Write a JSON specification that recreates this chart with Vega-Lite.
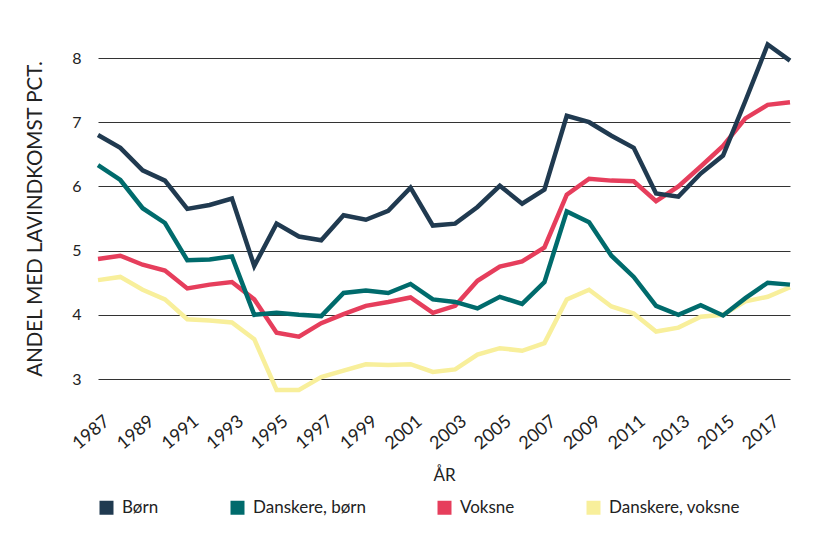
{
  "$schema": "https://vega.github.io/schema/vega-lite/v6.json",
  "autosize": "none",
  "width": 692,
  "height": 321,
  "padding": {"left": 98, "top": 58, "right": 23, "bottom": 154},
  "background": "white",
  "config": {
    "view": {"stroke": null},
    "font": "Lato",
    "axis": {"labelFont": "Lato", "titleFont": "Lato", "labelColor": "#222", "titleColor": "#222", "titleFontWeight": "normal"}
  },
  "datasets": {
    "rows": [
      {"year": 1987, "series": "Danskere, voksne", "value": 4.54},
      {"year": 1988, "series": "Danskere, voksne", "value": 4.59},
      {"year": 1989, "series": "Danskere, voksne", "value": 4.39},
      {"year": 1990, "series": "Danskere, voksne", "value": 4.24},
      {"year": 1991, "series": "Danskere, voksne", "value": 3.93},
      {"year": 1992, "series": "Danskere, voksne", "value": 3.91},
      {"year": 1993, "series": "Danskere, voksne", "value": 3.88},
      {"year": 1994, "series": "Danskere, voksne", "value": 3.62},
      {"year": 1995, "series": "Danskere, voksne", "value": 2.83},
      {"year": 1996, "series": "Danskere, voksne", "value": 2.83},
      {"year": 1997, "series": "Danskere, voksne", "value": 3.03},
      {"year": 1998, "series": "Danskere, voksne", "value": 3.13},
      {"year": 1999, "series": "Danskere, voksne", "value": 3.23},
      {"year": 2000, "series": "Danskere, voksne", "value": 3.22},
      {"year": 2001, "series": "Danskere, voksne", "value": 3.23},
      {"year": 2002, "series": "Danskere, voksne", "value": 3.11},
      {"year": 2003, "series": "Danskere, voksne", "value": 3.15},
      {"year": 2004, "series": "Danskere, voksne", "value": 3.38},
      {"year": 2005, "series": "Danskere, voksne", "value": 3.48},
      {"year": 2006, "series": "Danskere, voksne", "value": 3.44},
      {"year": 2007, "series": "Danskere, voksne", "value": 3.56},
      {"year": 2008, "series": "Danskere, voksne", "value": 4.24},
      {"year": 2009, "series": "Danskere, voksne", "value": 4.39},
      {"year": 2010, "series": "Danskere, voksne", "value": 4.13},
      {"year": 2011, "series": "Danskere, voksne", "value": 4.02},
      {"year": 2012, "series": "Danskere, voksne", "value": 3.74},
      {"year": 2013, "series": "Danskere, voksne", "value": 3.80},
      {"year": 2014, "series": "Danskere, voksne", "value": 3.97},
      {"year": 2015, "series": "Danskere, voksne", "value": 4.00},
      {"year": 2016, "series": "Danskere, voksne", "value": 4.21},
      {"year": 2017, "series": "Danskere, voksne", "value": 4.28},
      {"year": 2018, "series": "Danskere, voksne", "value": 4.43},

      {"year": 1987, "series": "Voksne", "value": 4.87},
      {"year": 1988, "series": "Voksne", "value": 4.92},
      {"year": 1989, "series": "Voksne", "value": 4.78},
      {"year": 1990, "series": "Voksne", "value": 4.69},
      {"year": 1991, "series": "Voksne", "value": 4.41},
      {"year": 1992, "series": "Voksne", "value": 4.47},
      {"year": 1993, "series": "Voksne", "value": 4.51},
      {"year": 1994, "series": "Voksne", "value": 4.24},
      {"year": 1995, "series": "Voksne", "value": 3.72},
      {"year": 1996, "series": "Voksne", "value": 3.66},
      {"year": 1997, "series": "Voksne", "value": 3.87},
      {"year": 1998, "series": "Voksne", "value": 4.01},
      {"year": 1999, "series": "Voksne", "value": 4.14},
      {"year": 2000, "series": "Voksne", "value": 4.20},
      {"year": 2001, "series": "Voksne", "value": 4.27},
      {"year": 2002, "series": "Voksne", "value": 4.03},
      {"year": 2003, "series": "Voksne", "value": 4.14},
      {"year": 2004, "series": "Voksne", "value": 4.53},
      {"year": 2005, "series": "Voksne", "value": 4.75},
      {"year": 2006, "series": "Voksne", "value": 4.83},
      {"year": 2007, "series": "Voksne", "value": 5.05},
      {"year": 2008, "series": "Voksne", "value": 5.87},
      {"year": 2009, "series": "Voksne", "value": 6.12},
      {"year": 2010, "series": "Voksne", "value": 6.09},
      {"year": 2011, "series": "Voksne", "value": 6.08},
      {"year": 2012, "series": "Voksne", "value": 5.77},
      {"year": 2013, "series": "Voksne", "value": 6.00},
      {"year": 2014, "series": "Voksne", "value": 6.31},
      {"year": 2015, "series": "Voksne", "value": 6.63},
      {"year": 2016, "series": "Voksne", "value": 7.06},
      {"year": 2017, "series": "Voksne", "value": 7.27},
      {"year": 2018, "series": "Voksne", "value": 7.31},

      {"year": 1987, "series": "Danskere, børn", "value": 6.33},
      {"year": 1988, "series": "Danskere, børn", "value": 6.10},
      {"year": 1989, "series": "Danskere, børn", "value": 5.66},
      {"year": 1990, "series": "Danskere, børn", "value": 5.43},
      {"year": 1991, "series": "Danskere, børn", "value": 4.85},
      {"year": 1992, "series": "Danskere, børn", "value": 4.86},
      {"year": 1993, "series": "Danskere, børn", "value": 4.91},
      {"year": 1994, "series": "Danskere, børn", "value": 4.00},
      {"year": 1995, "series": "Danskere, børn", "value": 4.03},
      {"year": 1996, "series": "Danskere, børn", "value": 4.00},
      {"year": 1997, "series": "Danskere, børn", "value": 3.98},
      {"year": 1998, "series": "Danskere, børn", "value": 4.34},
      {"year": 1999, "series": "Danskere, børn", "value": 4.38},
      {"year": 2000, "series": "Danskere, børn", "value": 4.34},
      {"year": 2001, "series": "Danskere, børn", "value": 4.48},
      {"year": 2002, "series": "Danskere, børn", "value": 4.24},
      {"year": 2003, "series": "Danskere, børn", "value": 4.20},
      {"year": 2004, "series": "Danskere, børn", "value": 4.10},
      {"year": 2005, "series": "Danskere, børn", "value": 4.28},
      {"year": 2006, "series": "Danskere, børn", "value": 4.17},
      {"year": 2007, "series": "Danskere, børn", "value": 4.51},
      {"year": 2008, "series": "Danskere, børn", "value": 5.61},
      {"year": 2009, "series": "Danskere, børn", "value": 5.44},
      {"year": 2010, "series": "Danskere, børn", "value": 4.92},
      {"year": 2011, "series": "Danskere, børn", "value": 4.59},
      {"year": 2012, "series": "Danskere, børn", "value": 4.14},
      {"year": 2013, "series": "Danskere, børn", "value": 4.00},
      {"year": 2014, "series": "Danskere, børn", "value": 4.15},
      {"year": 2015, "series": "Danskere, børn", "value": 3.99},
      {"year": 2016, "series": "Danskere, børn", "value": 4.26},
      {"year": 2017, "series": "Danskere, børn", "value": 4.50},
      {"year": 2018, "series": "Danskere, børn", "value": 4.47},

      {"year": 1987, "series": "Børn", "value": 6.80},
      {"year": 1988, "series": "Børn", "value": 6.60},
      {"year": 1989, "series": "Børn", "value": 6.25},
      {"year": 1990, "series": "Børn", "value": 6.09},
      {"year": 1991, "series": "Børn", "value": 5.65},
      {"year": 1992, "series": "Børn", "value": 5.71},
      {"year": 1993, "series": "Børn", "value": 5.81},
      {"year": 1994, "series": "Børn", "value": 4.76},
      {"year": 1995, "series": "Børn", "value": 5.42},
      {"year": 1996, "series": "Børn", "value": 5.22},
      {"year": 1997, "series": "Børn", "value": 5.16},
      {"year": 1998, "series": "Børn", "value": 5.55},
      {"year": 1999, "series": "Børn", "value": 5.48},
      {"year": 2000, "series": "Børn", "value": 5.62},
      {"year": 2001, "series": "Børn", "value": 5.98},
      {"year": 2002, "series": "Børn", "value": 5.39},
      {"year": 2003, "series": "Børn", "value": 5.42},
      {"year": 2004, "series": "Børn", "value": 5.68},
      {"year": 2005, "series": "Børn", "value": 6.01},
      {"year": 2006, "series": "Børn", "value": 5.73},
      {"year": 2007, "series": "Børn", "value": 5.95},
      {"year": 2008, "series": "Børn", "value": 7.10},
      {"year": 2009, "series": "Børn", "value": 7.00},
      {"year": 2010, "series": "Børn", "value": 6.79},
      {"year": 2011, "series": "Børn", "value": 6.60},
      {"year": 2012, "series": "Børn", "value": 5.89},
      {"year": 2013, "series": "Børn", "value": 5.84},
      {"year": 2014, "series": "Børn", "value": 6.20},
      {"year": 2015, "series": "Børn", "value": 6.48},
      {"year": 2016, "series": "Børn", "value": 7.33},
      {"year": 2017, "series": "Børn", "value": 8.21},
      {"year": 2018, "series": "Børn", "value": 7.96}
    ]
  },
  "data": {"name": "rows"},
  "mark": {"type": "line", "strokeWidth": 4.5, "strokeJoin": "miter", "clip": false},
  "encoding": {
    "x": {
      "field": "year", "type": "quantitative",
      "scale": {"domain": [1987, 2018], "nice": false, "zero": false},
      "axis": {
        "title": "ÅR", "titleFontSize": 17, "titlePadding": 15,
        "values": [1987,1989,1991,1993,1995,1997,1999,2001,2003,2005,2007,2009,2011,2013,2015,2017],
        "format": "d", "labelAngle": -40, "labelAlign": "right", "labelBaseline": "middle",
        "labelFontSize": 18, "labelPadding": 40, "labelOffset": 9, "labelFlush": false, "labelOverlap": false,
        "grid": false, "domain": false, "ticks": false
      }
    },
    "y": {
      "field": "value", "type": "quantitative",
      "scale": {"domain": [3, 8], "nice": false, "zero": false},
      "axis": {
        "title": "ANDEL MED LAVINDKOMST PCT.", "titleFontSize": 20.5, "titlePadding": 26,
        "values": [3,4,5,6,7,8], "labelFontSize": 16, "labelPadding": 17,
        "grid": true, "gridColor": "#333", "gridWidth": 1, "gridOpacity": 1,
        "domain": false, "ticks": false
      }
    },
    "color": {
      "field": "series", "type": "nominal",
      "scale": {
        "domain": ["Børn", "Danskere, børn", "Voksne", "Danskere, voksne"],
        "range": ["#203a50", "#006b6c", "#e63e5c", "#f8ef9b"]
      },
      "legend": {
        "title": null, "orient": "bottom", "direction": "horizontal", "columns": 4,
        "symbolType": "square", "symbolSize": 196, "symbolStrokeWidth": 0, "symbolOpacity": 1,
        "labelFontSize": 17, "labelFont": "Lato", "labelColor": "#222", "labelOffset": 7,
        "columnPadding": 70, "offset": 15,
        "encode": {"symbols": {"update": {"fill": {"scale": "color", "field": "value"}, "strokeWidth": {"value": 0}}}}
      }
    }
  }
}
